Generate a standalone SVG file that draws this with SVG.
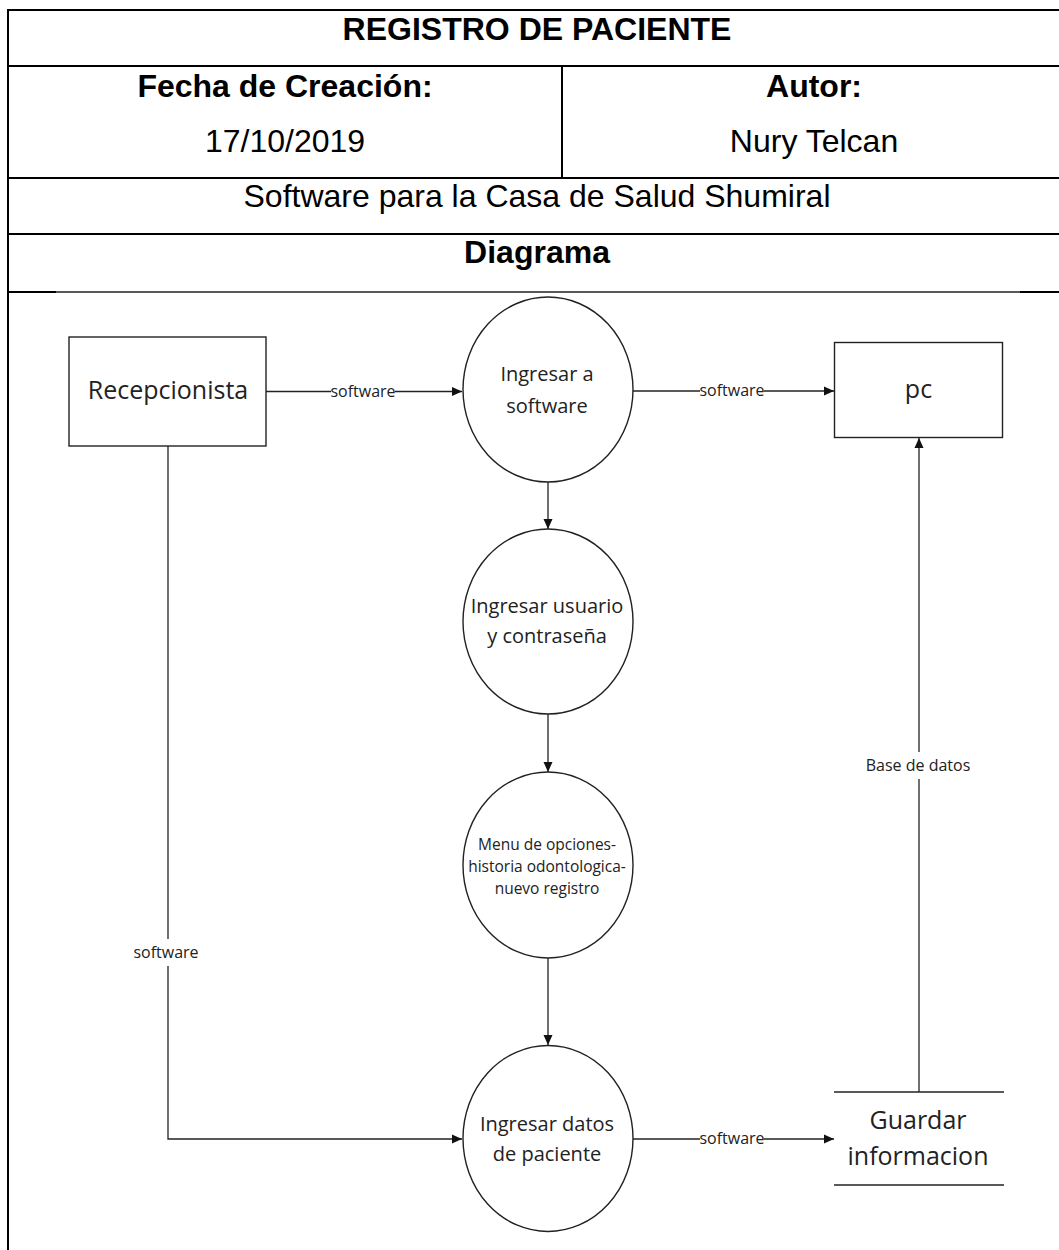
<svg xmlns="http://www.w3.org/2000/svg" width="1059" height="1250" viewBox="0 0 1059 1250">
  <style>
    .grid { stroke: #000; stroke-width: 2; fill: none; }
    .thin { stroke: #222; stroke-width: 1.3; fill: none; }
    .hdr { font-family: "Liberation Sans", Arial, sans-serif; font-size: 32px; fill: #000; text-anchor: middle; }
    .hdr.b { font-weight: bold; }
    .shape { fill: #fff; stroke: #222; stroke-width: 1.4; }
    .ent { font-family: "Open Sans", "Noto Sans", sans-serif; font-size: 25px; fill: #222; text-anchor: middle; }
    .proc { font-family: "Open Sans", "Noto Sans", sans-serif; font-size: 20px; fill: #222; text-anchor: middle; }
    .proc.sm { font-size: 15.5px; }
    .flow { stroke: #222; stroke-width: 1.3; fill: none; marker-end: url(#head); }
    .lbl { font-family: "Open Sans", "Noto Sans", sans-serif; font-size: 16px; fill: #222; text-anchor: middle; }
    .lblbg { fill: #fff; }
  </style>
  <defs>
    <marker id="head" markerUnits="userSpaceOnUse" markerWidth="10" markerHeight="10" viewBox="0 0 10 10" refX="10" refY="5" orient="auto">
      <path d="M0,0.5 L10,5 L0,9.5 Z" fill="#111"/>
    </marker>
  </defs>

  <rect x="0" y="0" width="1059" height="1250" fill="#fff"/>

  <!-- header table -->
  <g id="table">
    <line class="grid" x1="8" y1="10" x2="1059" y2="10"/>
    <line class="grid" x1="8" y1="9" x2="8" y2="1250"/>
    <line class="grid" x1="8" y1="66" x2="1059" y2="66"/>
    <line class="grid" x1="562" y1="66" x2="562" y2="178"/>
    <line class="grid" x1="8" y1="178" x2="1059" y2="178"/>
    <line class="grid" x1="8" y1="234" x2="1059" y2="234"/>
    <line class="grid" x1="8" y1="292" x2="56" y2="292"/>
    <line class="grid" x1="1020" y1="292" x2="1059" y2="292"/>
    <line class="thin" x1="56" y1="292" x2="1020" y2="292"/>
    <text class="hdr b" x="537" y="40">REGISTRO DE PACIENTE</text>
    <text class="hdr b" x="285" y="97">Fecha de Creación:</text>
    <text class="hdr b" x="814" y="97">Autor:</text>
    <text class="hdr" x="285" y="152">17/10/2019</text>
    <text class="hdr" x="814" y="152">Nury Telcan</text>
    <text class="hdr" x="537" y="207">Software para la Casa de Salud Shumiral</text>
    <text class="hdr b" x="537" y="263">Diagrama</text>
  </g>

  <!-- connectors -->
  <g id="connectors">
    <path class="flow" d="M266,391.5 H462"/>
    <path class="flow" d="M633,391 H834"/>
    <path class="flow" d="M548,482 V529"/>
    <path class="flow" d="M548,714 V772"/>
    <path class="flow" d="M548,958 V1045"/>
    <path class="flow" d="M168,446 V1139 H462"/>
    <path class="flow" d="M633,1139 H834"/>
    <path class="flow" d="M919,1092 V438"/>

    <rect class="lblbg" x="331" y="384" width="64" height="15"/>
    <text class="lbl" x="363" y="396.5">software</text>
    <rect class="lblbg" x="700" y="384" width="64" height="15"/>
    <text class="lbl" x="732" y="396">software</text>
    <rect class="lblbg" x="700" y="1132" width="64" height="15"/>
    <text class="lbl" x="732" y="1144">software</text>
    <rect class="lblbg" x="134" y="939" width="66" height="27"/>
    <text class="lbl" x="166" y="958">software</text>
    <rect class="lblbg" x="862" y="752" width="112" height="27"/>
    <text class="lbl" x="918" y="771">Base de datos</text>
  </g>

  <!-- external entities -->
  <g id="recepcionista">
    <rect class="shape" x="69" y="337" width="197" height="109"/>
    <text class="ent" x="168" y="399">Recepcionista</text>
  </g>
  <g id="pc">
    <rect class="shape" x="834.5" y="342.5" width="168" height="95"/>
    <text class="ent" x="918.5" y="398">pc</text>
  </g>

  <!-- processes -->
  <g id="ingresar-software">
    <ellipse class="shape" cx="548" cy="389.5" rx="85" ry="92.5"/>
    <text class="proc" x="547" y="381">Ingresar a</text>
    <text class="proc" x="547" y="413">software</text>
  </g>
  <g id="ingresar-usuario">
    <ellipse class="shape" cx="548" cy="621.5" rx="85" ry="92.5"/>
    <text class="proc" x="547" y="613">Ingresar usuario</text>
    <text class="proc" x="547" y="643">y contraseña</text>
  </g>
  <g id="menu-opciones">
    <ellipse class="shape" cx="548" cy="865" rx="85" ry="93"/>
    <text class="proc sm" x="547" y="849.5">Menu de opciones-</text>
    <text class="proc sm" x="547" y="872">historia odontologica-</text>
    <text class="proc sm" x="547" y="894">nuevo registro</text>
  </g>
  <g id="ingresar-datos">
    <ellipse class="shape" cx="548" cy="1138.5" rx="85" ry="93"/>
    <text class="proc" x="547" y="1131">Ingresar datos</text>
    <text class="proc" x="547" y="1161">de paciente</text>
  </g>

  <!-- data store -->
  <g id="guardar-informacion">
    <line class="thin" x1="834" y1="1092" x2="1004" y2="1092"/>
    <line class="thin" x1="834" y1="1185" x2="1004" y2="1185"/>
    <text class="ent" x="918" y="1129">Guardar</text>
    <text class="ent" x="918" y="1165">informacion</text>
  </g>
</svg>
